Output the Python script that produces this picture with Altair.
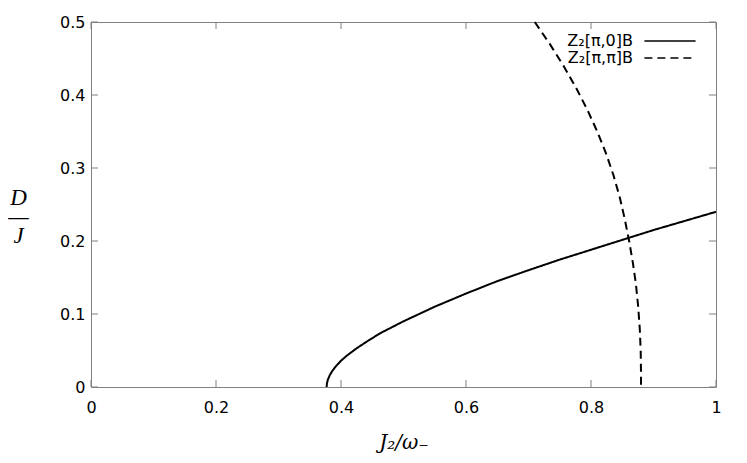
import altair as alt
import pandas as pd

series_names = ["Z₂[π,0]B", "Z₂[π,π]B"]

# Z2[pi,0]B (solid)
solid_x = [0.377, 0.3775, 0.379, 0.382, 0.386, 0.392, 0.400, 0.410, 0.425, 0.440,
           0.4624, 0.50, 0.55, 0.60, 0.65, 0.70, 0.75, 0.80, 0.85, 0.90, 0.95, 1.0]
solid_d = [0.000, 0.005, 0.010, 0.016, 0.022, 0.0285, 0.036, 0.0434, 0.053, 0.0615,
           0.0735, 0.090, 0.110, 0.128, 0.145, 0.160, 0.1745, 0.188, 0.2015, 0.215,
           0.2275, 0.240]

# Z2[pi,pi]B (dashed)
dashed_x = [0.710, 0.734, 0.756, 0.776, 0.794, 0.810, 0.824, 0.836, 0.846,
            0.854, 0.861, 0.867, 0.872, 0.8755, 0.878, 0.8795, 0.880, 0.880]
dashed_d = [0.50, 0.47, 0.44, 0.41, 0.38, 0.35, 0.32, 0.29, 0.26,
            0.23, 0.20, 0.17, 0.14, 0.11, 0.08, 0.05, 0.02, 0.00]

x_ticks = [0, 0.2, 0.4, 0.6, 0.8, 1.0]
y_ticks = [0, 0.1, 0.2, 0.3, 0.4, 0.5]

rows = []
for i, (x, d) in enumerate(zip(solid_x, solid_d)):
    rows.append({"x": x, "D": d, "series": series_names[0], "order": i})
for i, (x, d) in enumerate(zip(dashed_x, dashed_d)):
    rows.append({"x": x, "D": d, "series": series_names[1], "order": i})
df = pd.DataFrame(rows)
xt = pd.DataFrame({"x": x_ticks})
yt = pd.DataFrame({"D": y_ticks})

W, H = 625, 365
GRAY = "#808080"
TICK = 7

xs = alt.Scale(domain=[0, 1], nice=False, zero=False)
ys = alt.Scale(domain=[0, 0.5], nice=False, zero=False)

lines = alt.Chart(df).mark_line(color="black", strokeWidth=2).encode(
    x=alt.X("x:Q", scale=xs, axis=alt.Axis(
        orient="bottom", values=x_ticks, format="~g", ticks=False, domain=False,
        grid=False, labelFlush=False, labelFont="DejaVu Sans", labelFontSize=16,
        labelColor="black", labelPadding=12,
        title="J₂/ω₋", titleFont="DejaVu Serif",
        titleFontStyle="italic", titleFontWeight="normal", titleFontSize=20,
        titleColor="black", titleY=55, titleBaseline="middle")),
    y=alt.Y("D:Q", scale=ys, axis=alt.Axis(
        orient="left", values=y_ticks, format="~g", ticks=False, domain=False,
        grid=False, labelFlush=False, labelFont="DejaVu Sans", labelFontSize=16,
        labelColor="black", labelPadding=6,
        title=["D", "—", "J"], titleAngle=0,
        titleFont="Liberation Serif", titleFontStyle="italic",
        titleFontWeight="normal", titleFontSize=23, titleColor="black",
        titleX=-73, titleY=175, titleAlign="center", titleBaseline="middle",
        titleLineHeight=19)),
    strokeDash=alt.StrokeDash("series:N", scale=alt.Scale(
        domain=series_names, range=[[1, 0], [8, 5]]),
        legend=alt.Legend(orient="none", legendX=570, legendY=10, title=None,
                          symbolType="M-3.2,0H3.2", symbolSize=256,
                          symbolStrokeWidth=1.5, symbolStrokeColor="black",
                          labelAlign="right", labelOffset={"expr": "-46"},
                          labelFont="DejaVu Sans", labelFontSize=16,
                          labelColor="black", rowPadding=0, padding=0)),
    order=alt.Order("order:Q"),
)

# inward tick marks on all four sides (gnuplot style), placed by the scales
tick_bottom = alt.Chart(xt).mark_rule(color=GRAY, strokeWidth=1).encode(
    x=alt.X("x:Q", scale=xs, axis=None),
    y=alt.value(H), y2=alt.value(H - TICK))
tick_top = alt.Chart(xt).mark_rule(color=GRAY, strokeWidth=1).encode(
    x=alt.X("x:Q", scale=xs, axis=None),
    y=alt.value(0), y2=alt.value(TICK))
tick_left = alt.Chart(yt).mark_rule(color=GRAY, strokeWidth=1).encode(
    y=alt.Y("D:Q", scale=ys, axis=None),
    x=alt.value(0), x2=alt.value(TICK))
tick_right = alt.Chart(yt).mark_rule(color=GRAY, strokeWidth=1).encode(
    y=alt.Y("D:Q", scale=ys, axis=None),
    x=alt.value(W), x2=alt.value(W - TICK))

chart = alt.layer(
    lines, tick_bottom, tick_top, tick_left, tick_right
).resolve_axis(
    x="independent", y="independent"
).properties(
    width=W, height=H,
    autosize=alt.AutoSizeParams(type="none"),
    padding={"left": 83, "top": 14, "right": 23, "bottom": 68},
    background="white",
).configure_view(stroke=GRAY, strokeWidth=1)

chart.save("out.html", embed_options={"renderer": "svg", "actions": False})
